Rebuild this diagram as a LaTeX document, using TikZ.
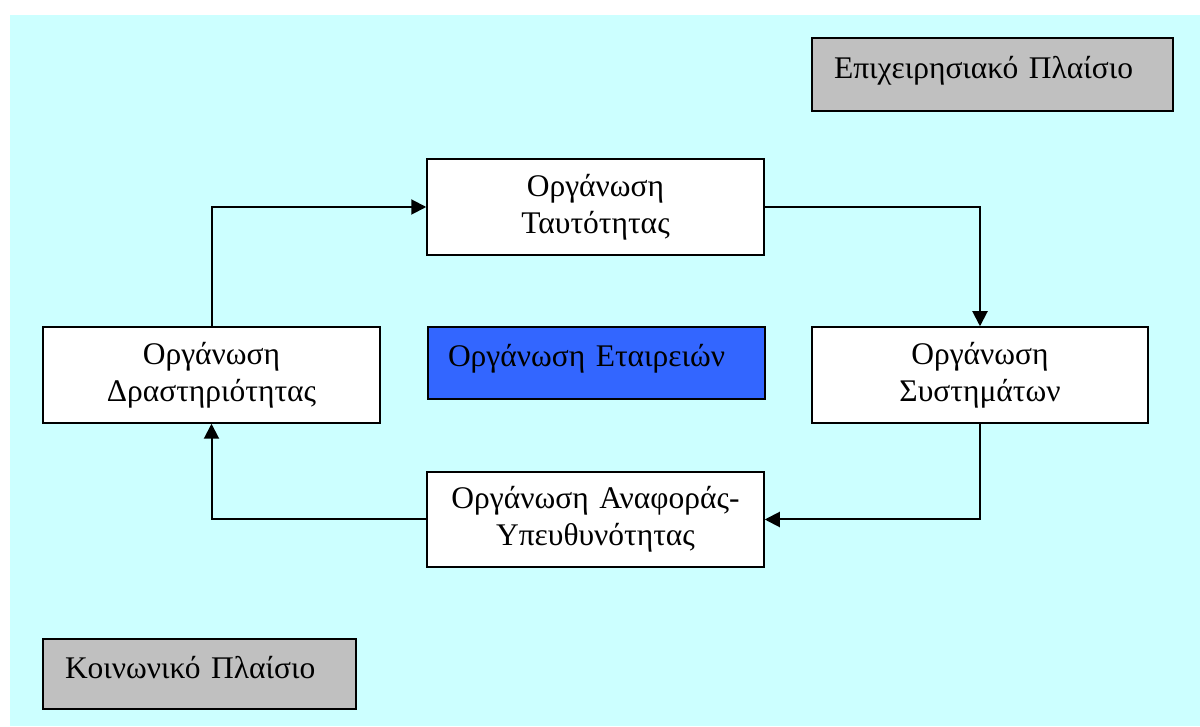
\documentclass[tikz,border=0pt]{standalone}
\usepackage{fontspec}
\setmainfont{Liberation Serif}
\usetikzlibrary{arrows.meta, positioning}
\definecolor{bgcyan}{HTML}{CCFFFF}
\definecolor{boxgray}{HTML}{C0C0C0}
\definecolor{boxblue}{HTML}{3366FF}

\begin{document}
\begin{tikzpicture}[x=1pt, y=1pt,
    box/.style={draw, line width=1.5pt, fill=white, inner sep=0pt, minimum width=337pt, minimum height=96pt, text width=320pt, align=center, font=\fontsize{31.5}{37}\selectfont},
    tag/.style={box, align=left, text height=22pt, text depth=14pt},
    link/.style={-{Triangle[length=15pt, width=15pt]}, line width=2pt}]
        \useasboundingbox (0,0) rectangle (1200,726);
        \fill[bgcyan] (10,0) rectangle (1200,711);

        % cycle of the four parts
        \node[box] (ident) at (595.5,519) {Οργάνωση\\Ταυτότητας};
        \node[box, minimum width=336pt] (sys) at (980,351) {Οργάνωση\\Συστημάτων};
        \node[box] (act) at (211.5,351) {Οργάνωση\\Δραστηριότητας};
        \node[box, minimum height=95pt] (resp) at (595.5,206.5) {Οργάνωση Αναφοράς-\\Υπευθυνότητας};

        % labels
        \node[tag, fill=boxblue, minimum height=72pt, text width=297pt] (comp) at (596.5,363) {Οργάνωση Εταιρειών};
        \node[tag, fill=boxgray, minimum width=361pt, minimum height=73pt, text width=317pt] (ops) at (992.5,651.5) {Επιχειρησιακό Πλαίσιο};
        \node[tag, fill=boxgray, minimum width=313pt, minimum height=70pt, text width=269pt] (soc) at (199.5,52) {Κοινωνικό Πλαίσιο};

        \draw[link] (act.north) |- (ident.west);
        \draw[link] (ident.east) -| (sys.north);
        \draw[link] (sys.south) |- (resp.east);
        \draw[link] (resp.west) -| (act.south);
\end{tikzpicture}
\end{document}
